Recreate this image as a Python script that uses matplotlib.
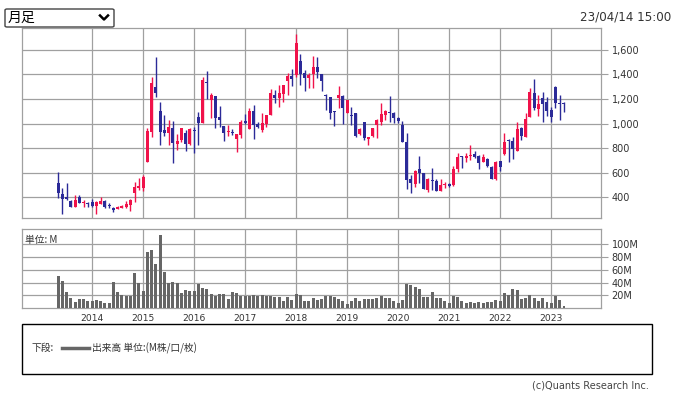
import numpy as np
import matplotlib.pyplot as plt
from matplotlib.patches import FancyBboxPatch, Rectangle
from matplotlib.lines import Line2D
from matplotlib.ticker import FuncFormatter

plt.rcParams['font.family'] = ['DejaVu Sans', 'Noto Sans CJK JP']

# monthly candles, 2013-05 .. 2023-04
opens = [516, 427, 405, 370, 324, 405, 351, 356,
         362, 332, 346, 373, 340, 313, 305, 313, 324, 340, 432, 473,
         478, 690, 934, 1300, 1104, 947, 926, 961, 833, 866, 926, 833,
         944, 1050, 1001, 1340, 1191, 1224, 1056, 982, 931, 934, 874, 906,
         1020, 958, 1102, 993, 950, 996, 1069, 1229, 1210, 1240, 1348, 1386,
         1394, 1508, 1408, 1373, 1400, 1459, 1402, 1229, 1218, 1102, 1210, 1224,
         1088, 1069, 1083, 915, 1009, 874, 898, 988, 1015, 1069, 1096, 1088,
         1047, 988, 852, 549, 505, 630, 600, 459, 541, 533, 454, 500,
         508, 500, 633, 730, 722, 736, 752, 736, 687, 714, 649, 549,
         695, 752, 866, 861, 779, 966, 893, 1056, 1248, 1118, 1207, 1178,
         1110, 1297, 1169, 1167]
highs = [603, 473, 514, 378, 419, 419, 378, 365,
         384, 367, 400, 378, 351, 324, 329, 337, 373, 384, 527, 554,
         581, 961, 1381, 1541, 1177, 1069, 1029, 1020, 915, 961, 947, 966,
         974, 1096, 1381, 1427, 1245, 1226, 1142, 982, 988, 955, 915, 1028,
         1075, 1123, 1150, 1009, 1083, 1069, 1280, 1272, 1313, 1313, 1413, 1443,
         1728, 1562, 1435, 1408, 1549, 1543, 1402, 1240, 1218, 1102, 1305, 1232,
         1191, 1137, 1083, 960, 1015, 893, 966, 1034, 1164, 1110, 1224, 1096,
         1050, 1020, 920, 581, 620, 736, 600, 554, 635, 552, 549, 527,
         514, 654, 757, 736, 763, 825, 779, 741, 749, 717, 654, 695,
         695, 920, 874, 888, 1015, 974, 1083, 1291, 1362, 1232, 1256, 1218,
         1137, 1308, 1232, 1178]
lows = [392, 267, 378, 324, 324, 351, 324, 324,
        324, 264, 346, 313, 310, 283, 302, 310, 310, 291, 365, 460,
        454, 690, 888, 1213, 825, 898, 825, 682, 785, 852, 779, 825,
        758, 825, 1001, 1196, 1047, 961, 974, 858, 898, 907, 771, 885,
        993, 958, 877, 961, 934, 974, 1069, 1169, 1137, 1172, 1232, 1305,
        1381, 1313, 1267, 1291, 1291, 1367, 1267, 1110, 1037, 980, 1123, 996,
        1083, 988, 888, 910, 866, 825, 888, 885, 988, 1028, 1010, 1007,
        1001, 847, 465, 438, 486, 520, 467, 446, 459, 454, 448, 473,
        486, 495, 608, 638, 690, 703, 722, 633, 684, 649, 546, 541,
        614, 744, 690, 711, 776, 866, 888, 1056, 1110, 1064, 1015, 1064,
        1015, 1129, 1028, 1096]
closes = [438, 389, 383, 324, 378, 356, 356, 348,
          329, 362, 368, 324, 329, 297, 324, 332, 346, 378, 486, 495,
          568, 942, 1332, 1245, 934, 926, 974, 844, 860, 961, 833, 955,
          939, 1001, 1354, 1332, 1232, 1042, 1028, 926, 939, 920, 915, 1009,
          1004, 1102, 985, 969, 1001, 1069, 1245, 1210, 1245, 1313, 1386, 1362,
          1652, 1402, 1373, 1394, 1459, 1421, 1346, 1221, 1083, 1096, 1232, 1123,
          1191, 1064, 898, 955, 880, 890, 966, 1028, 1077, 1102, 1088, 1047,
          1023, 847, 541, 519, 614, 595, 467, 546, 530, 454, 500, 508,
          492, 630, 728, 725, 736, 744, 725, 682, 725, 655, 552, 690,
          649, 852, 861, 795, 955, 901, 1037, 1256, 1129, 1156, 1161, 1104,
          1056, 1169, 1161, 1156]
# volume, millions
volumes = [50, 43, 25, 16, 10, 14.5, 14.5, 11.5,
           11.5, 12.5, 11.5, 8.5, 8.5, 41, 25.5, 21, 19, 19, 55, 39.5,
           27, 88, 91, 69, 114, 56.5, 39.5, 41, 39.5, 24, 28.5, 27,
           27, 38, 31.5, 30, 22.5, 19, 22.5, 22.5, 14.5, 25.5, 24, 19,
           19, 19, 21, 19, 21, 19, 19, 17.5, 17.5, 11.5, 17.5, 13,
           22.5, 21, 11.5, 11.5, 16, 13, 14.5, 19, 19, 17.5, 14.5, 11.5,
           7, 11.5, 16, 11.5, 14.5, 14.5, 14.5, 16, 19, 16, 16, 11.5,
           8.5, 13, 38, 36.5, 33, 30, 17.5, 17.5, 25.5, 16, 16, 11.5,
           8.5, 19, 17.5, 11.5, 8.5, 10, 8.5, 10, 8.5, 10, 10, 13,
           11.5, 24, 21, 30, 28.5, 14.5, 16, 21, 16, 11.5, 16, 10,
           8.5, 19, 13, 3.5]
years = ['2014', '2015', '2016', '2017', '2018', '2019', '2020', '2021', '2022', '2023']
year_pos = [8 + 12 * i for i in range(len(years))]
price_ticks = [400, 600, 800, 1000, 1200, 1400, 1600]
vol_ticks = [20, 40, 60, 80, 100]

W, H = 674, 395
UP = '#F0124A'
DOWN = '#2B2A98'
GRID = '#A0A0A0'
TXT = '#333333'


def fx(x):
    return x / W


def fy(y):
    return 1 - y / H


fig = plt.figure(figsize=(W / 100, H / 100), dpi=100)

ax = fig.add_axes([fx(21.6), fy(218.3), fx(600.5 - 21.6), (218.3 - 28.3) / H])
axv = fig.add_axes([fx(21.6), fy(308.3), fx(600.5 - 21.6), (308.3 - 229.3) / H])

o = np.array(opens, float)
h = np.array(highs, float)
l = np.array(lows, float)
c = np.array(closes, float)
x = np.arange(len(o))
col = np.where(c >= o, UP, DOWN)

ax.vlines(x, l, h, colors=col, lw=1.0, zorder=3)
body = np.maximum(np.abs(c - o), 9)
ax.bar(x, body, bottom=np.minimum(o, c), width=0.72, color=col, lw=0, zorder=4)

ax.set_xlim(-8.6, 127.6)
ax.set_ylim(229, 1775)
ax.set_yticks(price_ticks)
ax.yaxis.set_major_formatter(FuncFormatter(lambda v, p: f'{int(v):,}'))
ax.set_xticks(year_pos)
ax.set_xticklabels([])

axv.bar(x, volumes, width=0.68, color='#666666', lw=0, zorder=3)
axv.set_xlim(-8.6, 127.6)
axv.set_ylim(0, 122.5)
axv.set_yticks(vol_ticks)
axv.set_yticklabels([f'{v}M' for v in vol_ticks])
axv.set_xticks(year_pos)
axv.set_xticklabels(years)

for a in (ax, axv):
    a.yaxis.tick_right()
    a.grid(True, color=GRID, lw=0.9, zorder=0)
    a.set_axisbelow(True)
    for s in a.spines.values():
        s.set_color(GRID)
        s.set_linewidth(0.9)
    a.tick_params(axis='y', length=5, color=GRID, labelsize=7, labelcolor=TXT, pad=3)
    a.tick_params(axis='x', length=0, labelsize=6.6, labelcolor=TXT, pad=4)

axv.text(0.006, 0.93, '単位: M', transform=axv.transAxes, fontsize=7, color=TXT,
         ha='left', va='top', family=['Noto Sans CJK JP', 'DejaVu Sans'])

# period selector box
fig.add_artist(FancyBboxPatch((fx(5), fy(27)), fx(109), 18 / H,
                              boxstyle='round,pad=0,rounding_size=0.003',
                              transform=fig.transFigure, fc='white', ec='#444444', lw=1))
fig.text(fx(8), fy(18), '月足', fontsize=10, va='center', ha='left', color='black',
         family=['Noto Sans CJK JP', 'DejaVu Sans'])
fig.add_artist(Line2D([fx(100), fx(104), fx(108)], [fy(15.5), fy(19.5), fy(15.5)],
                      transform=fig.transFigure, color='black', lw=1.8))
fig.text(fx(671), fy(17), '23/04/14 15:00', fontsize=8.6, ha='right', va='center', color=TXT)

# legend box
fig.add_artist(Rectangle((fx(21.6), fy(374.3)), fx(652 - 21.6), (374.3 - 323.7) / H,
                         transform=fig.transFigure, fill=False, ec='black', lw=1))
fig.text(fx(32), fy(348), '下段:', fontsize=7, va='center', ha='left', color=TXT,
         family=['Noto Sans CJK JP', 'DejaVu Sans'])
fig.add_artist(Line2D([fx(62), fx(88.5)], [fy(348), fy(348)],
                      transform=fig.transFigure, color='#666666', lw=2.5))
fig.text(fx(92), fy(348), '出来高 単位:(M株/口/枚)', fontsize=7, va='center', ha='left',
         color=TXT, family=['Noto Sans CJK JP', 'DejaVu Sans'])
fig.text(fx(649), fy(386), '(c)Quants Research Inc.', fontsize=7, ha='right', va='center',
         color='#444444')

fig.savefig('out.png', dpi=100)
